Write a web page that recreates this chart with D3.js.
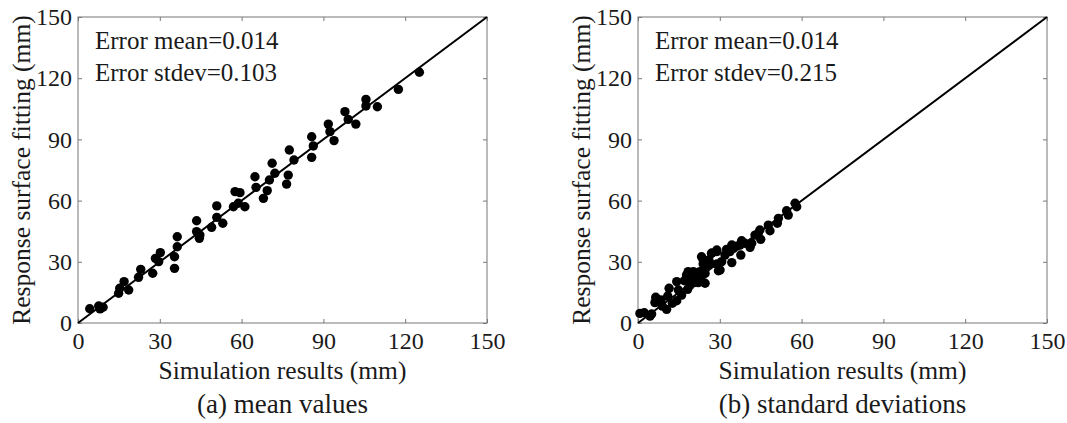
<!DOCTYPE html>
<html>
<head>
<meta charset="utf-8">
<script src="https://cdn.jsdelivr.net/npm/d3@7"></script>
<style>
  body { margin: 0; background: #fff; }
  svg { display: block; }
</style>
</head>
<body>
<svg width="1067" height="423"></svg>
<script>
// ticks shared by both panels
const ticks = [0, 30, 60, 90, 120, 150];

// panel (a): mean values, [simulation, fitting]
const meanSim = [4.3, 7.6, 9.2, 8.1, 14.9, 15.3, 16.9, 18.6, 22.2, 23, 27.4, 28.4, 30.2, 29.6, 35.4, 35.4, 36.4, 36.4,
  43.5, 43.5, 44.5, 44.7, 49, 50.9, 50.9, 53.1, 57, 57.6, 59.4, 58.8, 61.2, 64.9, 65.3, 68, 69.4, 70.2, 71.2, 72.2,
  76.5, 77.1, 77.5, 79.2, 85.7, 86.3, 85.7, 91.8, 92.4, 93.9, 97.9, 99.1, 101.9, 105.6, 105.6, 109.8, 117.5, 125.2];
const meanFit = [7.0, 8.3, 7.7, 6.9, 14.6, 17.0, 20.3, 16.2, 22.4, 26.3, 24.4, 31.7, 34.5, 30.1, 32.5, 26.8, 37.4, 42.3,
  50.1, 44.8, 41.5, 43.1, 46.9, 57.4, 51.8, 48.9, 57.0, 64.4, 63.9, 58.7, 57.0, 71.7, 66.5, 61.1, 64.9, 70.1, 78.3, 73.4,
  68.1, 72.5, 84.8, 79.9, 81.2, 86.8, 91.3, 97.5, 93.8, 89.4, 103.6, 99.8, 97.5, 109.6, 106.4, 106.0, 114.5, 122.9];

// panel (b): standard deviations, [simulation, fitting]
const sdSim = [0.7, 2.3, 4.4, 5.0, 6.2, 6.5, 8.4, 8.9, 10.5, 10.9, 11.4, 12.6, 14.2, 14.8, 14.2, 16.0, 17.0, 17.8, 18.2,
  19.1, 19.7, 20.3, 20.6, 21.5, 22.7, 23.1, 23.9, 24.6, 23.3, 25.2, 26.0, 27.0, 28.9, 28.9, 29.5, 24.6, 22.1, 18.4,
  57.6, 58.2, 54.5, 55.1, 51.5, 51.1, 47.8, 48.4, 44.7, 44.1, 45.0, 42.9, 41.1, 39.2, 38.0, 37.4, 36.2, 35.0, 34.4,
  37.7, 33.7, 32.5, 31.9, 34.4, 30.7, 30.1, 28.9, 27.0, 26.4, 23.9, 41.7];
const sdFit = [4.7, 5.0, 3.4, 4.4, 10.0, 12.6, 11.3, 8.3, 6.7, 13.2, 17.0, 9.7, 10.9, 16.2, 20.3, 13.7, 20.7, 23.5, 16.5,
  18.6, 22.4, 25.2, 19.8, 21.9, 25.2, 22.4, 28.9, 24.3, 32.5, 27.6, 30.9, 34.2, 35.0, 28.9, 25.6, 19.5, 19.8, 25.2,
  58.7, 57.0, 55.0, 52.9, 51.3, 48.9, 48.0, 45.2, 45.6, 44.0, 41.0, 43.1, 37.1, 39.1, 40.3, 38.2, 37.7, 36.6, 38.2,
  33.3, 35.0, 36.1, 33.3, 29.6, 30.1, 26.0, 35.8, 34.2, 29.2, 30.9, 39.1];

const panels = [
  { left: 78, sim: meanSim, fit: meanFit, errMean: "Error mean=0.014", errSd: "Error stdev=0.103", caption: "(a) mean values" },
  { left: 638, sim: sdSim, fit: sdFit, errMean: "Error mean=0.014", errSd: "Error stdev=0.215", caption: "(b) standard deviations" }
];

const svg = d3.select("svg");
const plotW = 409, plotTop = 17, plotH = 306;
const serif = "'Liberation Serif', 'DejaVu Serif', serif";
const ink = "#1a1a1a";

panels.forEach(p => {
  const g = svg.append("g").attr("transform", `translate(${p.left},${plotTop})`);
  const x = d3.scaleLinear().domain([0, 150]).range([0, plotW]);
  const y = d3.scaleLinear().domain([0, 150]).range([plotH, 0]);

  // box
  g.append("rect").attr("width", plotW).attr("height", plotH)
    .attr("fill", "none").attr("stroke", "#777").attr("stroke-width", 1);

  const styleAxis = sel => {
    sel.attr("font-family", serif).attr("font-size", 24);
    sel.select(".domain").remove();
    sel.selectAll(".tick line").attr("stroke", "#777");
    sel.selectAll(".tick text").attr("fill", ink);
  };

  g.append("g").attr("transform", `translate(0,${plotH})`)
    .call(d3.axisBottom(x).tickValues(ticks).tickSizeInner(-4).tickSizeOuter(0).tickPadding(9))
    .call(styleAxis);
  g.append("g")
    .call(d3.axisLeft(y).tickValues(ticks).tickSizeInner(-4).tickSizeOuter(0).tickPadding(6))
    .call(styleAxis);
  g.append("g")
    .call(d3.axisTop(x).tickValues(ticks).tickSizeInner(-4).tickSizeOuter(0).tickFormat(""))
    .call(styleAxis);
  g.append("g").attr("transform", `translate(${plotW},0)`)
    .call(d3.axisRight(y).tickValues(ticks).tickSizeInner(-4).tickSizeOuter(0).tickFormat(""))
    .call(styleAxis);

  // y = x reference line
  g.append("line")
    .attr("x1", x(0)).attr("y1", y(0)).attr("x2", x(150)).attr("y2", y(150))
    .attr("stroke", "#000").attr("stroke-width", 2);

  g.selectAll(".dot")
    .data(p.sim.map((s, i) => [s, p.fit[i]]))
    .enter()
    .append("circle")
    .attr("cx", d => x(d[0]))
    .attr("cy", d => y(d[1]))
    .attr("r", 4.7)
    .attr("fill", "#000");

  const txt = (xx, yy, size, s) => g.append("text").attr("x", xx).attr("y", yy)
    .attr("font-family", serif).attr("font-size", size).attr("fill", ink).text(s);

  txt(17, 32, 25, p.errMean);
  txt(17, 64, 25, p.errSd);
  txt(plotW / 2, 362, 25.5, "Simulation results (mm)").attr("text-anchor", "middle");
  txt(plotW / 2, 396, 27, p.caption).attr("text-anchor", "middle");
  txt(0, 0, 25.5, "Response surface fitting (mm)")
    .attr("transform", `translate(-57,${plotH / 2}) rotate(-90)`)
    .attr("dy", "0.35em").attr("text-anchor", "middle");
});
</script>
</body>
</html>
